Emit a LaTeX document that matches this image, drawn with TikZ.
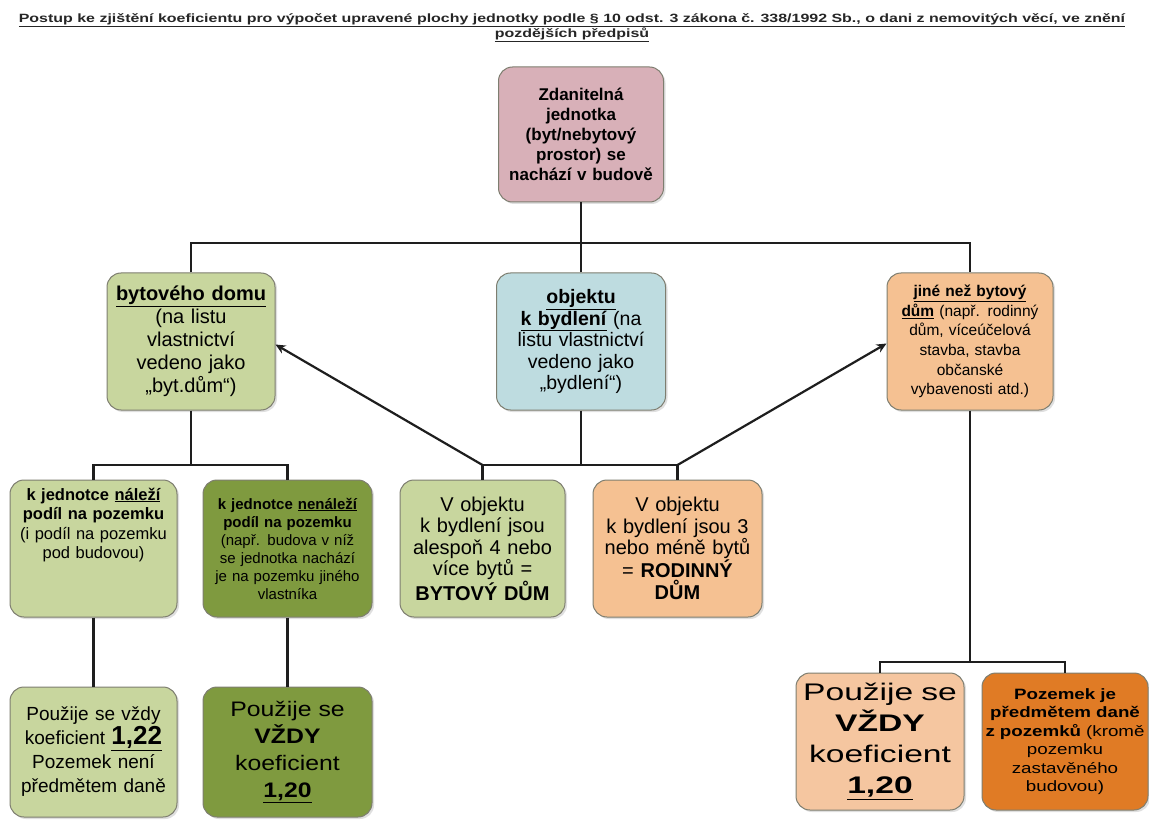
\documentclass[tikz,border=0pt]{standalone}
\usepackage{fontspec}
\setmainfont{Liberation Sans}
\newfontfamily\wideA{Liberation Sans}[FakeStretch=1.4]
\newfontfamily\wideB{Liberation Sans}[FakeStretch=1.25]
\newfontfamily\wideC{Liberation Sans}[FakeStretch=1.18]
\usetikzlibrary{shadows,arrows.meta}
\definecolor{cTop}{HTML}{D8B0B8}
\definecolor{cGreen}{HTML}{C8D69E}
\definecolor{cBlue}{HTML}{BEDCE0}
\definecolor{cPeach}{HTML}{F5C192}
\definecolor{cPeachL}{HTML}{F5C6A0}
\definecolor{cOlive}{HTML}{7F9A3F}
\definecolor{cOrange}{HTML}{E07B25}
\definecolor{cLine}{HTML}{1E1E1E}
\definecolor{cBorder}{HTML}{7E7E70}
\newcommand\myfs[2]{\fontsize{#1}{#2}\selectfont}
\newcommand\tstretch[1]{\scalebox{1.33}[1]{#1}}
\tikzset{
  box/.style={draw=cBorder, line width=1pt, rounded corners=14pt, fill=#1,
    align=center, inner sep=2pt,
    drop shadow={shadow xshift=2pt, shadow yshift=-2pt, opacity=0.25}},
  txt/.style={align=center, inner sep=0pt},
  conn/.style={draw=cLine, line width=2.2pt},
  arr/.style={draw=cLine, line width=2.2pt, -{Stealth[length=10pt,width=9pt]}},
}
\begin{document}
\begin{tikzpicture}[x=1pt,y=-1pt]
\useasboundingbox[fill=white] (0,0) rectangle (1149,821);

% title
\node[txt, text=black!85, font=\myfs{12}{15}\bfseries] (title) at (572,28)
  {\tstretch{\underline{Postup ke zjištění koeficientu pro výpočet upravené plochy jednotky podle § 10 odst. 3 zákona č. 338/1992 Sb., o dani z nemovitých věcí, ve znění}}\\\tstretch{\underline{pozdějších předpisů}}};

% level 1
\node[box=cTop, minimum width=165pt, minimum height=135pt, text width=158pt, font=\myfs{17}{20}\bfseries] (top) at (581,134.5)
  {Zdanitelná\\jednotka\\(byt/nebytový\\prostor) se\\nachází v budově};

% level 2
\node[box=cGreen, minimum width=168pt, minimum height=137pt, text width=162pt, font=\myfs{20}{23}] (bd) at (191,341.5)
  {\underline{\textbf{bytového domu}}\\(na listu\\vlastnictví\\vedeno jako\\„byt.dům“)};
\node[box=cBlue, minimum width=169pt, minimum height=137pt, text width=162pt, font=\myfs{19.5}{21.5}] (ob) at (581,341.5)
  {\underline{\textbf{objektu}}\\\underline{\textbf{k bydlení}} (na\\listu vlastnictví\\vedeno jako\\„bydlení“)};
\node[box=cPeach, minimum width=166pt, minimum height=137pt, text width=160pt, font=\myfs{15.5}{19.6}] (jn) at (970,341.5)
  {\underline{\textbf{jiné než bytový}}\\\underline{\textbf{dům}} (např. rodinný\\dům, víceúčelová\\stavba, stavba\\občanské\\vybavenosti atd.)};

% level 3
\node[box=cGreen, minimum width=167pt, minimum height=137pt] (a1) at (93.5,548.5) {};
\node[txt, anchor=north, text width=160pt, font=\myfs{16.5}{19.5}] (a1t) at ([yshift=-8pt]a1.north)
  {\textbf{k jednotce \underline{náleží}}\\\textbf{podíl na pozemku}\\(i podíl na pozemku\\pod budovou)};
\node[box=cOlive, minimum width=169pt, minimum height=137pt, text width=165pt, font=\myfs{15}{18}] (a2) at (287.5,548.5)
  {\textbf{k jednotce \underline{nenáleží}}\\\textbf{podíl na pozemku}\\(např. budova v níž\\se jednotka nachází\\je na pozemku jiného\\vlastníka};
\node[box=cGreen, minimum width=165pt, minimum height=137pt, text width=160pt, font=\myfs{20}{21.5}] (a3) at (482.5,548.5)
  {V objektu\\k bydlení jsou\\alespoň 4 nebo\\více bytů =\\\textbf{BYTOVÝ DŮM}};
\node[box=cPeach, minimum width=169pt, minimum height=137pt, text width=163pt, font=\myfs{20}{21.5}] (a4) at (677.5,548.5)
  {V objektu\\k bydlení jsou 3\\nebo méně bytů\\= \textbf{RODINNÝ}\\\textbf{DŮM}};

% level 4
\node[box=cGreen, minimum width=167pt, minimum height=130pt, text width=163pt, font=\myfs{19}{24}] (b1) at (93.5,752)
  {Použije se vždy\\koeficient {\myfs{26}{24}\underline{\textbf{1,22}}}\\Pozemek není\\předmětem daně};
\node[box=cOlive, minimum width=169pt, minimum height=130pt, text width=165pt, font=\wideC\myfs{21}{27}] (b2) at (287.5,752)
  {Použije se\\\textbf{VŽDY}\\koeficient\\\underline{\textbf{1,20}}};
\node[box=cPeachL, minimum width=166pt, minimum height=137pt, text width=164pt, font=\wideA\myfs{24}{31}] (b5) at (880,741.5)
  {Použije se\\\textbf{VŽDY}\\koeficient\\\underline{\textbf{1,20}}};
\node[box=cOrange, minimum width=164pt, minimum height=137pt, text width=162pt, font=\wideB\myfs{15}{18.5}] (b6) at (1065,741.5)
  {\textbf{Pozemek je}\\\textbf{předmětem daně}\\\textbf{z pozemků} (kromě\\pozemku\\zastavěného\\budovou)};

% junctions
\coordinate (j1) at (581,243);
\coordinate (jl) at (191,465);
\coordinate (jm) at (581,465);
\coordinate (jr) at (970,662);

% connectors
\draw[conn] (top.south) -- (j1);
\draw[conn] (bd.north) -- (bd.north |- j1) -- (jn.north |- j1) -- (jn.north);
\draw[conn] (ob.north) -- (ob.north |- j1);

\draw[conn] (bd.south) -- (jl);
\draw[conn] (a1.north) -- (a1.north |- jl) -- (a2.north |- jl) -- (a2.north);

\draw[conn] (ob.south) -- (jm);
\draw[conn] (a3.north) -- (a3.north |- jm) -- (a4.north |- jm) -- (a4.north);

\draw[arr] (a3.north |- jm) -- ([yshift=-3pt]bd.east);
\draw[arr] (a4.north |- jm) -- ([yshift=-2pt]jn.west);

\draw[conn] (a1.south) -- (b1.north);
\draw[conn] (a2.south) -- (b2.north);

\draw[conn] (jn.south) -- (jr);
\draw[conn] (b5.north) -- (b5.north |- jr) -- (b6.north |- jr) -- (b6.north);
\end{tikzpicture}
\end{document}
